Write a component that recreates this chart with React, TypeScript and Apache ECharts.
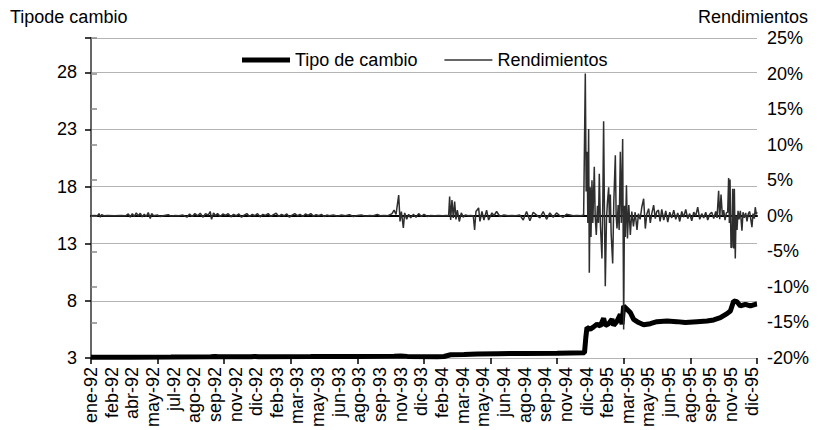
import React, { useEffect, useRef } from "react";
import * as echarts from "echarts";

// X positions are business-day indices (0 = start of ene-92, 1000 = end of dic-95)
const tickLabels = [
  "ene-92", "feb-92", "abr-92", "may-92", "jul-92", "ago-92", "sep-92", "nov-92", "dic-92",
  "feb-93", "mar-93", "may-93", "jun-93", "ago-93", "sep-93", "nov-93", "dic-93",
  "feb-94", "mar-94", "may-94", "jun-94", "ago-94", "sep-94", "nov-94", "dic-94",
  "feb-95", "mar-95", "may-95", "jun-95", "ago-95", "sep-95", "nov-95", "dic-95",
];
const labelStep = 31;
const tickStep = 100;
const dayCount = 1000;

// Tipo de cambio (pesos por dólar)
const tipoDeCambio: [number, number][] = [
  [0, 3.07], [60, 3.07], [120, 3.08], [180, 3.1], [186, 3.13], [192, 3.1], [240, 3.11], [246, 3.13], [252, 3.11],
  [330, 3.12], [345, 3.14], [360, 3.12], [375, 3.14], [400, 3.12], [455, 3.15], [465, 3.18], [475, 3.14],
  [520, 3.11], [530, 3.13], [540, 3.28], [560, 3.3], [580, 3.34], [610, 3.38], [650, 3.4], [700, 3.42],
  [741, 3.45], [743, 4.8], [744.7, 5.66], [749.7, 5.52], [754.7, 5.72], [759.7, 5.95], [764.7, 5.8],
  [769.7, 6.48], [772.2, 5.85], [777.2, 6.0], [782.3, 6.4], [784.7, 5.85], [789.7, 6.2], [794.8, 6.82],
  [797.3, 5.95], [799.8, 7.55], [804.8, 7.26], [809.8, 6.97], [814.8, 6.38], [822.3, 6.1], [829.8, 5.9],
  [839.8, 6.0], [849.8, 6.18], [864.8, 6.24], [879.8, 6.18], [892.4, 6.1], [909.9, 6.18], [924.9, 6.24],
  [935, 6.33], [945, 6.53], [955, 6.88], [960, 7.11], [965, 7.98], [970, 7.92], [975, 7.55], [982.5, 7.7],
  [990, 7.55], [997.5, 7.7], [1000, 7.72],
];

// Rendimientos (%)
const rendimientos: [number, number][] = [
  [0, 0], [5, 0.05], [10, 0], [12, 0.3], [14, -0.2], [16, 0.15], [19, 0], [25, 0.05], [35, 0], [45, 0.05], [52, 0],
  [56, 0.25], [59, -0.2], [62, 0.3], [65, -0.1], [68, 0.4], [71, 0], [74, 0.35], [77, -0.15], [80, 0.2], [83, -0.1],
  [86, 0.45], [89, -0.4], [91, 0.3], [94, 0], [100, 0.1], [104, -0.1], [110, 0.05], [116, 0.15], [120, -0.05],
  [126, 0.05], [132, 0], [138, 0.1], [144, -0.2], [148, 0.25], [152, -0.1], [156, 0.3], [160, 0], [164, 0.35],
  [168, -0.2], [172, 0.3], [176, 0.1], [179, 0.6], [181, -0.5], [184, 0.4], [187, 0], [190, 0.3], [194, -0.1],
  [198, 0.25], [202, 0.05], [206, 0.3], [210, -0.15], [214, 0.2], [218, 0], [222, 0.25], [226, -0.2], [230, 0.1],
  [234, 0.3], [238, -0.1], [242, 0.2], [246, 0], [250, 0.3], [254, -0.15], [258, 0.2], [262, 0.05], [266, 0.3],
  [270, -0.1], [274, 0.15], [278, 0.35], [282, -0.1], [286, 0.2], [290, 0], [294, 0.25], [298, -0.2], [302, 0.1],
  [306, 0.3], [310, 0], [314, 0.2], [318, -0.1], [322, 0.25], [326, 0.05], [330, 0.3], [334, -0.05], [338, 0.15],
  [342, 0], [346, 0.2], [350, -0.1], [354, 0.1], [358, 0], [364, 0.1], [370, -0.05], [376, 0.1], [382, 0],
  [388, 0.15], [394, -0.1], [400, 0.05], [406, 0.1], [412, -0.05], [418, 0.05], [424, 0], [430, 0.2], [434, 0],
  [440, 0.05], [446, 0], [452, 0.3], [455, 0.8], [458, 0.2], [462, 2.9], [464, -0.8], [466, 0.6], [469, -1.7],
  [471, 0.4], [474, -0.5], [477, 0.2], [480, -0.3], [484, 0.2], [488, -0.2], [492, 0.3], [496, -0.1], [500, 0.2],
  [505, -0.1], [510, 0.05], [516, 0], [522, 0.05], [528, 0], [534, 0.05], [537, 0], [538.5, 2.7], [540, -0.6],
  [542, 2.2], [544, -0.3], [546, 2.0], [548, -0.5], [550, 0.8], [553, -0.8], [556, 0.4], [559, -0.2], [562, 0.1],
  [566, 0], [570, 0.05], [574, 0], [576, -2.0], [578, 0.6], [582, 1.1], [584, -0.8], [587, 0.6], [590, -0.6],
  [594, 0.8], [597, -0.6], [602, 0.4], [605, 0], [609, 0.6], [614, -0.1], [620, 0.1], [626, 0], [632, 0.05],
  [638, 0], [644, 0.1], [649, -0.6], [654, 0.6], [659, -0.7], [664, 0.5], [669, 0.1], [674, -0.3], [679, 0.6],
  [684, -0.5], [689, 0.4], [694, -0.2], [699, 0.4], [704, 0], [709, -0.2], [714, 0.2], [719, 0.1], [724, 0],
  [730, 0.05], [736, 0], [739.7, 0.1],
  [742.2, 20], [743.5, 3.4], [745, 9], [746, -1], [747.2, 12.2], [748.2, -8], [749.5, 4], [750.7, -3], [752.2, 5],
  [753.5, -1], [755.7, 6.9], [757, 0], [758.7, -2.7], [760.5, 1.4], [762, -1], [763.2, 5.9], [765, -1.5],
  [767.2, -6], [768.5, 2], [769.7, 13.3], [771, 0], [772.2, -9.9], [774, -0.5], [775.5, 2], [777.3, 4],
  [778.5, -1], [779.8, 3], [781, -2.5], [783.3, -6.7], [785, 2], [787.3, 8.5], [788.5, 0], [789.8, -1.8],
  [791.5, 1.5], [793, -2], [794.8, 9], [796.3, -1], [798.3, 10.8], [799.8, -16], [801, 1.4], [802.3, -3],
  [804, 4.3], [805.5, -3.2], [807.5, 1.5], [809.8, -2.7], [812, 0.6], [814.5, -1.5], [817, 0.5], [819.8, -2],
  [822, 0.3], [824.5, -0.5], [827, 1.2], [829.8, 2.4], [832.3, -1.8], [834.5, 0.2], [837.3, 1.0], [839.8, -1.0],
  [842, 0.3], [844.8, 1.5], [847.3, -0.4], [849.5, 0.6], [852, 0.8], [854.5, -0.8], [857, 0.9], [860, -0.6],
  [863, 0.7], [866, -0.9], [869, 0.5], [872, -0.3], [875, 0.8], [878, -0.5], [881, 0.4], [884, -0.8], [887, 0.6],
  [890, -0.2], [893, 0.9], [896, -0.4], [899, 0.3], [902, -0.7], [905, 0.5], [908, 0], [911, 1.2], [914, -0.5],
  [917, 0.3], [920, -0.3], [923, 0.5], [926, -0.6], [929, 0.2], [932, 0.5], [935, -0.4], [938, 0.6], [940, -0.3],
  [942.4, 3.5], [944, -0.5], [946, 3.0], [948, 0], [950, 0.8], [952, -0.6], [954, 0.4], [956, 0.5], [957.4, 5.3],
  [958.5, -1], [959.5, 5.1], [961, -4.5], [962.4, -4.4], [963.5, 3.8], [965, -4.6], [966, 3.8], [967.4, -6],
  [968.5, 0], [970, -2], [971.5, 0.7], [973, -0.5], [975, 0.7], [977.4, -2.1], [979, 0.5], [981, -0.3],
  [983, 0.4], [985, -0.8], [987, 0.3], [989, 0.6], [990.5, -0.4], [992.4, -1.6], [994, 0.3], [996, -0.4],
  [997.4, 1.2], [999, 0.2], [1000, 0.5],
];

const FONT = "'Liberation Sans', Arial, sans-serif";

export default function App() {
  const ref = useRef<HTMLDivElement>(null);

  useEffect(() => {
    document.body.style.margin = "0";
    if (!ref.current) return;
    const chart = echarts.init(ref.current, undefined, { renderer: "svg" });
    chart.setOption({
      animation: false,
      backgroundColor: "#ffffff",
      textStyle: { fontFamily: FONT },
      grid: { left: 91, right: 61, top: 38, bottom: 69, containLabel: false },
      legend: {
        left: 237,
        top: 46,
        itemWidth: 48,
        itemHeight: 14,
        itemGap: 27,
        textStyle: { fontSize: 18, color: "#000", fontFamily: FONT },
        data: [
          { name: "Tipo de cambio", icon: "path://M0,0H48V5H0Z", itemStyle: { color: "#000" } },
          { name: "Rendimientos", icon: "path://M0,0H48V1.3H0Z", itemStyle: { color: "#333333" } },
        ],
      },
      graphic: [
        { type: "text", left: 10, top: 8, style: { text: "Tipode cambio", fontSize: 18, fill: "#000", font: `18px ${FONT}` } },
        { type: "text", right: 10, top: 8, style: { text: "Rendimientos", fontSize: 18, fill: "#000", font: `18px ${FONT}` } },
      ],
      xAxis: [
        {
          type: "value",
          min: 0,
          max: dayCount,
          interval: labelStep,
          position: "bottom",
          axisLine: { show: true, lineStyle: { color: "#000", width: 2 } },
          axisTick: { show: false },
          splitLine: { show: false },
          axisLabel: {
            rotate: 90,
            margin: 9,
            fontSize: 18,
            color: "#000",
            fontFamily: FONT,
            formatter: (v: number) => {
              if (v % labelStep !== 0) return "";
              const i = v / labelStep;
              return tickLabels[i] ?? "";
            },
          },
        },
        {
          type: "value",
          min: 0,
          max: dayCount,
          interval: tickStep,
          position: "bottom",
          axisLine: { show: false },
          axisTick: { show: true, length: 6, lineStyle: { color: "#000", width: 1.5 } },
          axisLabel: { show: false },
          splitLine: { show: false },
        },
      ],
      yAxis: [
        {
          type: "value",
          min: 3,
          max: 31,
          interval: 5,
          position: "left",
          axisLine: { show: true, lineStyle: { color: "#000", width: 2 } },
          axisTick: { show: true, length: 6, lineStyle: { color: "#000", width: 1.5 } },
          splitLine: { show: true, lineStyle: { color: "#b4b4b4", width: 1 } },
          axisLabel: {
            margin: 14,
            fontSize: 18,
            color: "#000",
            fontFamily: FONT,
            formatter: (v: number) => (v === 31 ? "" : String(v)),
          },
        },
        {
          type: "value",
          min: -20,
          max: 25,
          interval: 5,
          position: "right",
          axisLine: { show: true, lineStyle: { color: "#8a8a8a", width: 1.5 } },
          axisTick: { show: true, length: 6, lineStyle: { color: "#8a8a8a", width: 1.5 } },
          splitLine: { show: false },
          axisLabel: {
            margin: 10,
            fontSize: 18,
            color: "#000",
            fontFamily: FONT,
            formatter: (v: number) => `${v}%`,
          },
        },
      ],
      series: [
        {
          name: "Tipo de cambio",
          type: "line",
          xAxisIndex: 0,
          yAxisIndex: 0,
          data: tipoDeCambio,
          symbol: "none",
          z: 2,
          lineStyle: { color: "#000", width: 5 },
          itemStyle: { color: "#000" },
        },
        {
          name: "Rendimientos",
          type: "line",
          xAxisIndex: 0,
          yAxisIndex: 1,
          data: rendimientos,
          symbol: "none",
          z: 3,
          lineStyle: { color: "#2e2e2e", width: 1.5 },
          itemStyle: { color: "#333333" },
        },
      ],
    });
    return () => chart.dispose();
  }, []);

  return <div ref={ref} style={{ width: 818, height: 430 }} />;
}
